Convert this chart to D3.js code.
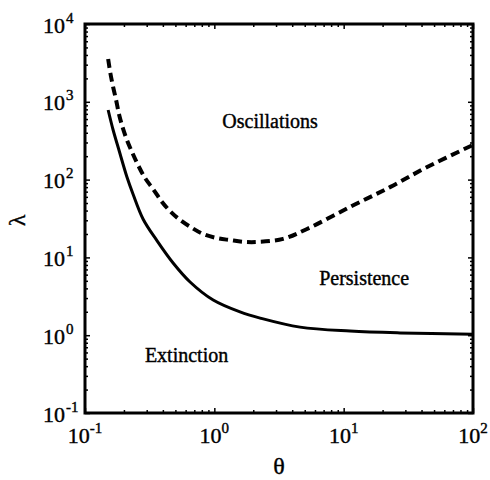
<!DOCTYPE html>
<html lang="en">
<head>
  <meta charset="UTF-8">
  <title>Extinction / persistence / oscillations</title>
  <script src="https://d3js.org/d3.v7.min.js"></script>
  <style>
    body {
      margin: 0;
      background: #fff;
    }
    svg text {
      font-family: "Liberation Serif", "Times New Roman", serif;
      fill: #000;
      stroke: #000;
      stroke-width: 0.4px;
    }
  </style>
</head>
<body>
<svg width="490" height="480"></svg>

<script>
  // boundary curves (theta, lambda)
  const solidTheta = [0.151, 0.165, 0.183, 0.211, 0.235, 0.281, 0.361, 0.48, 0.649, 0.98, 1.58, 2.26, 4.6, 11.2, 27.3, 100];
  const solidLambda = [785, 434, 240, 108, 65.3, 31.2, 16.3, 8.47, 4.83, 2.83, 1.99, 1.66, 1.27, 1.13, 1.07, 1.03];

  const dashTheta = [0.151, 0.157, 0.165, 0.174, 0.183, 0.195, 0.211, 0.231, 0.257, 0.291, 0.336, 0.394, 0.454,
    0.543, 0.672, 0.818, 1.049, 1.323, 1.728, 2.18, 3.4, 5.21, 11.2, 22.8, 44.2, 100];
  const dashLambda = [3548, 2344, 1549, 1054, 697, 474, 323, 226, 154, 105, 75.7, 51.5, 39.5,
    30.3, 23.9, 20.0, 17.7, 16.7, 15.8, 15.8, 17.3, 23.2, 44.5, 80, 145, 279];

  const xMajor = [0.1, 1, 10, 100];
  const xExp = ["-1", "0", "1", "2"];
  const yMajor = [0.1, 1, 10, 100, 1000, 10000];
  const yExp = ["-1", "0", "1", "2", "3", "4"];

  const regionLabels = ["Oscillations", "Persistence", "Extinction"];
  const regionAt = [[2.7, 566], [14.4, 5.4], [0.61, 0.557]]; // label centres in data units

  const svg = d3.select("svg");
  const m = {left: 85, right: 473, top: 24, bottom: 413};

  const x = d3.scaleLog().domain([0.1, 100]).range([m.left, m.right]);
  const y = d3.scaleLog().domain([0.1, 10000]).range([m.bottom, m.top]);

  function minorTicks(lo, hi) {
    let out = [];
    for (let d = lo; d < hi; d *= 10)
      for (let k = 2; k <= 9; k++) out.push(d * k);
    return out;
  }

  const axes = svg.append("g");
  const addAxis = (axisFn, scale, vals, len, tr) => {
    let g = axes.append("g")
            .attr("transform", tr)
            .call(axisFn(scale).tickValues(vals).tickSize(-len).tickFormat(""));
    g.select(".domain").remove();
    g.selectAll("line").attr("stroke", "#000").attr("stroke-width", 1.5);
  };

  addAxis(d3.axisBottom, x, xMajor, 5, `translate(0,${m.bottom})`);
  addAxis(d3.axisTop, x, xMajor, 5, `translate(0,${m.top})`);
  addAxis(d3.axisBottom, x, minorTicks(0.1, 100), 3, `translate(0,${m.bottom})`);
  addAxis(d3.axisTop, x, minorTicks(0.1, 100), 3, `translate(0,${m.top})`);
  addAxis(d3.axisLeft, y, yMajor, 5, `translate(${m.left},0)`);
  addAxis(d3.axisRight, y, yMajor, 5, `translate(${m.right},0)`);
  addAxis(d3.axisLeft, y, minorTicks(0.1, 10000), 3, `translate(${m.left},0)`);
  addAxis(d3.axisRight, y, minorTicks(0.1, 10000), 3, `translate(${m.right},0)`);

  // frame
  svg.append("rect")
          .attr("x", m.left).attr("y", m.top)
          .attr("width", m.right - m.left).attr("height", m.bottom - m.top)
          .attr("fill", "none")
          .attr("stroke", "#000")
          .attr("stroke-width", 3);

  // x tick labels
  const xl = svg.append("g").selectAll("text")
          .data(xMajor)
          .enter()
          .append("text")
          .attr("x", d => x(d))
          .attr("y", m.bottom + 30)
          .attr("text-anchor", "middle")
          .attr("font-size", 22);
  xl.append("tspan").text("10");
  xl.append("tspan").attr("dy", -10).attr("font-size", 15).text((d, i) => xExp[i]);

  // y tick labels
  yMajor.forEach((v, i) => {
    svg.append("text")
            .attr("x", 65).attr("y", y(v) + 8.5)
            .attr("text-anchor", "end")
            .attr("font-size", 22)
            .text("10");
    svg.append("text")
            .attr("x", 66).attr("y", y(v) - 1.5)
            .attr("font-size", 15)
            .text(yExp[i]);
  });

  const line = d3.line()
          .x(d => x(d[0]))
          .y(d => y(d[1]))
          .curve(d3.curveCatmullRom.alpha(0.5));

  svg.append("path")
          .datum(d3.zip(solidTheta, solidLambda))
          .attr("d", line)
          .attr("fill", "none")
          .attr("stroke", "#000")
          .attr("stroke-width", 3);

  svg.append("path")
          .datum(d3.zip(dashTheta, dashLambda))
          .attr("d", line)
          .attr("fill", "none")
          .attr("stroke", "#000")
          .attr("stroke-width", 4)
          .attr("stroke-dasharray", "9,5");

  // region names
  svg.append("g").selectAll("text")
          .data(regionLabels)
          .enter()
          .append("text")
          .attr("x", (d, i) => x(regionAt[i][0]))
          .attr("y", (d, i) => y(regionAt[i][1]))
          .attr("text-anchor", "middle")
          .attr("dy", "0.35em")
          .attr("font-size", 20)
          .text(d => d);

  // axis titles
  svg.append("text")
          .attr("x", (m.left + m.right) / 2)
          .attr("y", 474)
          .attr("text-anchor", "middle")
          .attr("font-size", 24)
          .text("θ");

  svg.append("text")
          .attr("transform", `translate(25,${(m.top + m.bottom) / 2 + 2}) rotate(-90)`)
          .attr("text-anchor", "middle")
          .attr("font-size", 24)
          .text("λ");
</script>
</body>
</html>
